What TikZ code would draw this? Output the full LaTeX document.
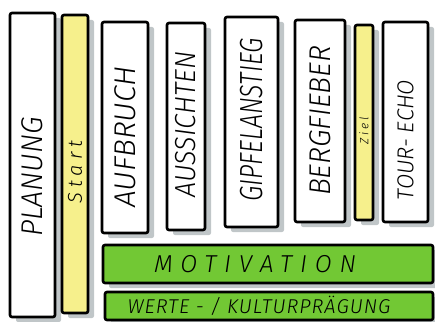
\documentclass[tikz,border=0pt]{standalone}
\usepackage{fontspec}
\setmainfont{Fira Sans Light}
\usetikzlibrary{shadows,positioning}
\definecolor{markeryellow}{RGB}{246,240,140}
\definecolor{markergreen}{RGB}{114,200,52}
\definecolor{shadowgrey}{RGB}{192,198,200}

\begin{document}
\begin{tikzpicture}[
    x=1pt, y=-1pt,
    bar/.style={draw, line width=2.6pt, fill=white, rounded corners=2pt, inner sep=0pt,
      drop shadow={shadow xshift=6pt, shadow yshift=-5pt, fill=shadowgrey, opacity=1}},
    lbl/.style={rotate=90, inner sep=0pt, font=\itshape\fontsize{#1}{#1}\selectfont},
    flat/.style={inner sep=0pt, font=\itshape\fontsize{#1}{#1}\selectfont}
  ]
    \useasboundingbox (0,0) rectangle (435,321);

    % columns
    \node[bar, minimum width=45pt, minimum height=304pt] (planung) at (32.5,165) {};
    \node[bar, fill=markeryellow, minimum width=26pt, minimum height=298pt] (start) at (75,164) {};
    \node[bar, minimum width=46pt, minimum height=211pt] (aufbruch) at (125,127.5) {};
    \node[bar, minimum width=38pt, minimum height=207pt] (aussichten) at (186,126.5) {};
    \node[bar, minimum width=53pt, minimum height=210pt] (gipfel) at (251.5,122) {};
    \node[bar, minimum width=50pt, minimum height=202pt] (berg) at (320,121) {};
    \node[bar, fill=markeryellow, minimum width=18pt, minimum height=195pt] (ziel) at (364,122.5) {};
    \node[bar, minimum width=45pt, minimum height=200pt] (echo) at (405.5,122) {};

    % bands
    \node[bar, fill=markergreen, minimum width=330pt, minimum height=38pt] (motivation) at (268,264) {};
    \node[bar, fill=markergreen, minimum width=328pt, minimum height=28pt] (werte) at (269,306) {};

    % labels
    \node[lbl=30] (planungtxt) at ([yshift=-12pt]planung.center) {\scalebox{.95}[1]{PLANUNG}};
    \node[lbl=20] (starttxt) at ([yshift=-8pt]start.center) {\addfontfeatures{LetterSpace=25}Start};
    \node[lbl=30] (aufbruchtxt) at ([yshift=-9.5pt]aufbruch.center) {AUFBRUCH};
    \node[lbl=29] (aussichtentxt) at ([yshift=2pt]aussichten.center) {\scalebox{.93}[1]{AUSSICHTEN}};
    \node[lbl=32] (gipfeltxt) at ([yshift=2pt]gipfel.center) {\scalebox{.78}[1]{GIPFELANSTIEG}};
    \node[lbl=30] (bergtxt) at (berg.center) {\scalebox{.95}[1]{BERGFIEBER}};
    \node[lbl=12] (zieltxt) at ([yshift=-8.5pt]ziel.center) {\addfontfeatures{LetterSpace=25}Ziel};
    \node[lbl=23] (echotxt) at ([yshift=-18pt]echo.center) {\scalebox{.96}[1]{TOUR- ECHO}};
    \node[flat=24.5] (motivationtxt) at ([xshift=-13pt]motivation.center) {\addfontfeatures{LetterSpace=32}MOTIVATION};
    \node[flat=20] (wertetxt) at ([xshift=-10pt]werte.center) {\addfontfeatures{LetterSpace=5}WERTE - / KULTURPRÄGUNG};
\end{tikzpicture}
\end{document}
